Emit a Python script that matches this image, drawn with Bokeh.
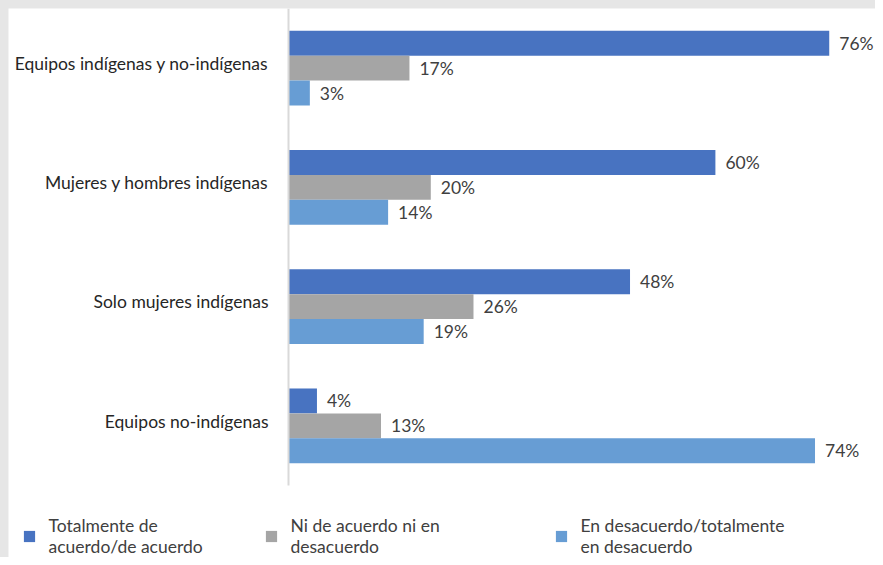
from bokeh.plotting import figure
from bokeh.models import Range1d, Legend, LegendItem, ColumnDataSource, Spacer
from bokeh.layouts import column, row
from bokeh.core.properties import value
from bokeh.embed import file_html
from bokeh.resources import INLINE

categories = ["Equipos indígenas y no-indígenas", "Mujeres y hombres indígenas",
              "Solo mujeres indígenas", "Equipos no-indígenas"]
series_names = ["Totalmente de\nacuerdo/de acuerdo", "Ni de acuerdo ni en\ndesacuerdo",
                "En desacuerdo/totalmente\nen desacuerdo"]
acuerdo = [76, 60, 48, 4]
neutral = [17, 20, 26, 13]
desacuerdo = [3, 14, 19, 74]
colors = ["#4873C1", "#A5A5A5", "#679DD4"]

FONT = "Lato"
FS = "17.5px"
n = len(categories)
centers = [n - 1 - i for i in range(n)]
bar_h = 0.209
offsets = [bar_h, 0.0, -bar_h]

W, H = 867, 549
AXIS_PX = 280          # horizontal pixel position of the category axis
CHART_H = 477          # pixel height of the bar area
px_x = 7.115           # pixels per percent
px_y = CHART_H / n     # pixels per category

p = figure(width=W, height=H, output_backend="svg", toolbar_location=None,
           x_range=Range1d(-AXIS_PX / px_x, (W - AXIS_PX) / px_x),
           y_range=Range1d(n - 0.5 - H / px_y, n - 0.5),
           min_border_left=0, min_border_right=0, min_border_top=0, min_border_bottom=0)
p.outline_line_color = None
p.grid.visible = False
p.axis.visible = False
p.background_fill_color = "white"
p.border_fill_color = "white"

renderers = []
for vals, off, col in zip([acuerdo, neutral, desacuerdo], offsets, colors):
    src = ColumnDataSource(dict(y=[c + off for c in centers], v=vals,
                                lab=[f"{v}%" for v in vals]))
    r = p.hbar(y="y", right="v", left=0, height=bar_h, source=src,
               fill_color=col, line_color=None)
    renderers.append(r)
    p.text(x="v", y="y", text="lab", source=src, x_offset=10,
           text_baseline="middle", text_align="left", text_font=value(FONT),
           text_font_size=FS, text_color="#404040")

# category axis line and labels
p.segment(x0=[0], y0=[-0.5], x1=[0], y1=[n - 0.5], line_color="#d9d9d9", line_width=2)
p.text(x=[0] * n, y=[c + 0.04 for c in centers], text=categories, x_offset=-20,
       text_align="right", text_baseline="middle", text_font=value(FONT),
       text_font_size=FS, text_color="#262626")

leg_x = [13.5, 255.5, 545.5]
for r, name, lx in zip(renderers, series_names, leg_x):
    lg = Legend(items=[LegendItem(label=name, renderers=[r])], location=(lx, 0),
                orientation="horizontal", padding=0, margin=0, spacing=0,
                glyph_width=14, glyph_height=14, label_standoff=13,
                border_line_color=None, background_fill_alpha=0,
                label_text_font=FONT, label_text_font_size=FS,
                label_text_color="#404040", label_text_line_height=1.25)
    p.add_layout(lg, "center")

root = column(Spacer(width=W + 8, height=8),
              row(Spacer(width=8, height=H), p, spacing=0),
              spacing=0, styles={"background-color": "#e6e6e6"})

open("out.html", "w").write(file_html(root, INLINE))
